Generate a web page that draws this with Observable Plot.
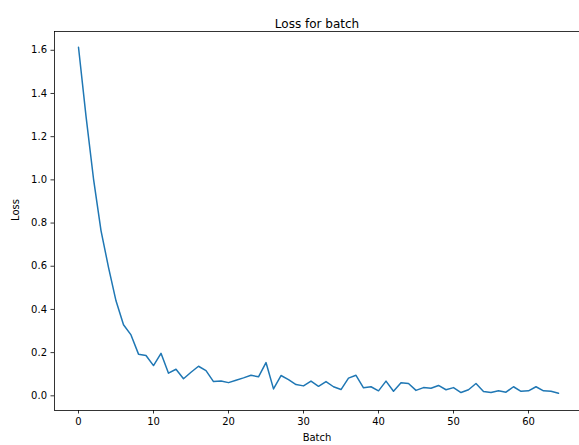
<!DOCTYPE html>
<html>
<head>
<meta charset="utf-8">
<script src="https://cdn.jsdelivr.net/npm/d3@7"></script>
<script src="https://cdn.jsdelivr.net/npm/@observablehq/plot@0.6"></script>
<style>
  html, body { margin: 0; padding: 0; background: white; }
</style>
</head>
<body>
<div id="chart"></div>
<script>
const title = "Loss for batch";
const xLabel = "Batch";
const yLabel = "Loss";
const xTicks = [0, 10, 20, 30, 40, 50, 60];
const yTicks = [0, 0.2, 0.4, 0.6, 0.8, 1.0, 1.2, 1.4, 1.6];
const loss = [
  1.614, 1.295, 1.005, 0.765, 0.595, 0.44, 0.329, 0.282, 0.193, 0.187,
  0.14, 0.197, 0.105, 0.123, 0.079, 0.109, 0.137, 0.117, 0.066, 0.069,
  0.061, 0.072, 0.083, 0.095, 0.088, 0.154, 0.032, 0.094, 0.075, 0.052,
  0.046, 0.068, 0.044, 0.066, 0.042, 0.029, 0.082, 0.095, 0.037, 0.042,
  0.023, 0.068, 0.021, 0.06, 0.057, 0.025, 0.038, 0.035, 0.048, 0.028,
  0.038, 0.015, 0.028, 0.057, 0.02, 0.015, 0.023, 0.017, 0.042, 0.021,
  0.023, 0.042, 0.023, 0.021, 0.012
];

const xDomain = [-3.2, 66.8];
const yDomain = [-0.068, 1.687];

const chart = Plot.plot({
  width: 579,
  height: 445,
  marginLeft: 54,
  marginRight: 0,
  marginTop: 31,
  marginBottom: 35,
  style: { fontFamily: "DejaVu Sans", fontSize: "10px", color: "#000", background: "white" },
  x: { domain: xDomain },
  y: { domain: yDomain },
  marks: [
    Plot.ruleX([xDomain[0]], { stroke: "#000", strokeWidth: 0.8 }),
    Plot.ruleY(yDomain, { stroke: "#000", strokeWidth: 0.8 }),
    Plot.lineY(loss, { stroke: "#1f77b4", strokeWidth: 1.5 }),
    Plot.axisX({ ticks: xTicks, tickSize: 3.5, tickPadding: 3.5, label: null, stroke: "#000", strokeWidth: 0.8 }),
    Plot.axisY({ ticks: yTicks, tickFormat: ".1f", tickSize: 3.5, tickPadding: 4, label: null, stroke: "#000", strokeWidth: 0.8 }),
    Plot.text([title], { text: d => d, frameAnchor: "top", dy: -12, fontSize: 12, fill: "#000" }),
    Plot.text([xLabel], { text: d => d, frameAnchor: "bottom", dy: 30, fontSize: 10, fill: "#000" }),
    Plot.text([yLabel], { text: d => d, frameAnchor: "left", dx: -39, rotate: -90, fontSize: 10, fill: "#000" })
  ]
});
document.getElementById("chart").appendChild(chart);
</script>
</body>
</html>
